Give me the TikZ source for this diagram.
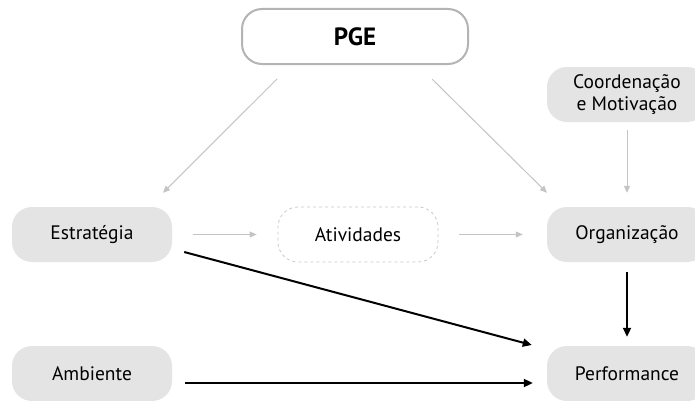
\documentclass[tikz,border=0pt]{standalone}
\usepackage{fontspec}
\setmainfont{PT Sans}
\usetikzlibrary{arrows.meta}
\definecolor{boxfill}{HTML}{E4E4E5}
\definecolor{pgeline}{HTML}{B4B4B4}
\definecolor{lightarrow}{HTML}{C4C4C4}
\definecolor{dashline}{HTML}{CACACA}
\tikzset{
  box/.style={rectangle, rounded corners=20pt, minimum width=160pt, minimum height=55pt,
    inner sep=0pt, align=center, font=\fontsize{19.5}{22}\selectfont, text=black},
  filledbox/.style={box, fill=boxfill},
  dashbox/.style={box, draw=dashline, dashed, line width=0.8pt},
  pgebox/.style={box, draw=pgeline, line width=2pt, minimum width=226pt,
    font=\fontsize{25}{28}\bfseries\selectfont},
  grayarrow/.style={draw=lightarrow, line width=1pt, -{Triangle[length=7pt,width=6pt]}, lightarrow},
  blackarrow/.style={draw=black, line width=2pt, -{Triangle[length=9pt,width=8pt]}}
}
\begin{document}
\begin{tikzpicture}[x=1pt,y=1pt]
\clip (0,0) rectangle (695,400);
\fill[white] (0,0) rectangle (695,400);
\node[pgebox] (pge) at (355,363.5) {PGE};
\node[filledbox] (coord) at (627,305.5) {Coordenação\\e Motivação};
\node[filledbox] (est) at (92,165.5) {Estratégia};
\node[dashbox] (act) at (358,165.5) {Atividades};
\node[filledbox] (org) at (627,165.5) {Organização};
\node[filledbox] (amb) at (92,26.5) {Ambiente};
\node[filledbox] (perf) at (627,26.5) {Performance};
\draw[grayarrow] ([shift={(-78,-14)}]pge.south) -- ([shift={(71,14)}]est.north);
\draw[grayarrow] ([shift={(77,-14)}]pge.south) -- ([shift={(-80,14)}]org.north);
\draw[grayarrow, shorten <=8pt, shorten >=14pt] (coord.south) -- (org.north);
\draw[grayarrow, shorten <=21pt, shorten >=21pt] (est.east) -- (act.west);
\draw[grayarrow, shorten <=21pt, shorten >=24pt] (act.east) -- (org.west);
\draw[blackarrow] ([shift={(12,-17.5)}]est.east) -- ([shift={(-15,28.5)}]perf.west);
\draw[blackarrow, shorten <=10pt, shorten >=9pt] (org.south) -- (perf.north);
\draw[blackarrow] ([shift={(13,-9.5)}]amb.east) -- ([shift={(-14,-9.5)}]perf.west);
\end{tikzpicture}
\end{document}
